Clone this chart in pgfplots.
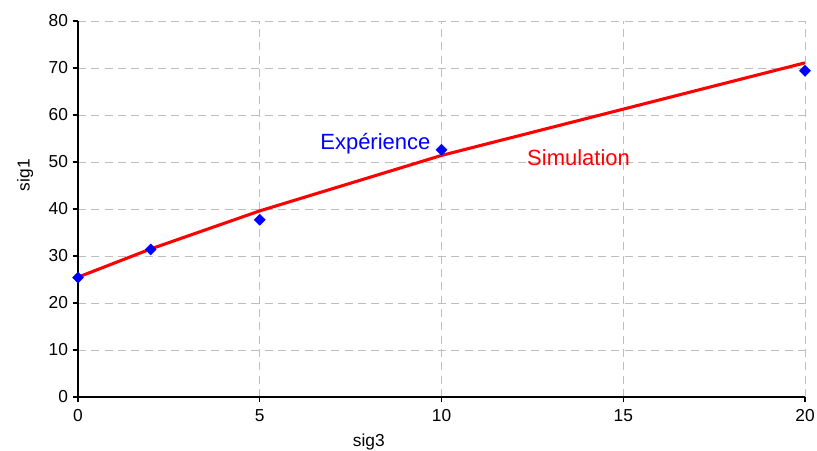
\documentclass[border=0pt]{standalone}
\usepackage{pgfplots}
\pgfplotsset{compat=1.18}
\usepackage{fontspec}
\setmainfont{Liberation Sans}
\definecolor{simred}{RGB}{255,0,0}
\definecolor{expblue}{RGB}{0,0,255}
\definecolor{gridgray}{RGB}{190,190,190}
\begin{document}
\begin{tikzpicture}
\begin{axis}[
  scale only axis,
  width=545.25pt, height=282pt,
  xmin=0, xmax=20, ymin=0, ymax=80,
  xtick={0,5,10,15,20}, ytick={0,10,...,80},
  axis lines=left, axis line style={-, black, line width=0.8pt},
  tick style={black, line width=0.8pt},
  tick align=outside, major tick length=4pt,
  grid=major,
  major grid style={gridgray, dash pattern=on 6pt off 4pt, line width=0.6pt},
  tick label style={font=\fontsize{13}{15}\selectfont},
  xticklabel style={yshift=-2pt},
  /pgf/number format/assume math mode=true,
  xlabel={sig3}, ylabel={sig1},
  label style={font=\fontsize{13}{15}\selectfont},
  xlabel style={at={(axis description cs:0.40,0)}, anchor=north, yshift=-24pt},
  ylabel style={at={(axis description cs:0,0.59)}, anchor=south, yshift=30pt},
  clip=false,
]
\addplot[simred, line width=2.3pt] coordinates {(0,25.5) (2,31.5) (5,39.6) (10,51.4) (20,71.1)};
\addplot[only marks, mark=square*, mark size=2.9pt, color=expblue, mark options={fill=expblue, draw=expblue, rotate=45}] coordinates {(0,25.4) (2,31.4) (5,37.7) (10,52.6) (20,69.4)};
\node[anchor=west, text=expblue, font=\fontsize{16.5}{18}\selectfont, inner sep=0pt] at (axis cs:6.66,54.0) {Expérience};
\node[anchor=west, text=simred, font=\fontsize{16.5}{18}\selectfont, inner sep=0pt] at (axis cs:12.35,50.9) {Simulation};
\end{axis}
\pgfresetboundingbox
\path (-58.5pt,-39.75pt) rectangle (554.25pt,297.75pt);
\end{tikzpicture}
\end{document}
